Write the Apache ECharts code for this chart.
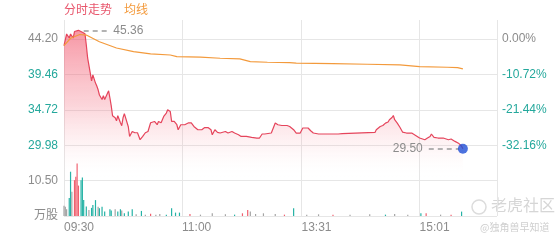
<!DOCTYPE html>
<html><head><meta charset="utf-8">
<script src="https://cdn.jsdelivr.net/npm/echarts@6/dist/echarts.min.js"></script>
<style>html,body{margin:0;padding:0;background:#fff}#c{width:560px;height:240px}</style>
</head><body><div id="c"></div>
<script>
// ---------- data ----------
const prevClose = 44.20;
const priceTickLabels = ['44.20', '39.46', '34.72', '29.98'];
const pctTickLabels = ['0.00', '-10.72', '-21.44', '-32.16'];
const volTickLabels = { '0.00': '万股', '10.50': '10.50' };
const timeTickIdx = [0, 90, 181, 271];
const timeGridIdx = [0, 90, 181, 271, 330];

// HK session minutes: 09:30-12:00, 13:01-16:00
const categories = [];
for (let m = 0; m <= 330; m++) {
  let h, mm;
  if (m <= 150) { const t = 9 * 60 + 30 + m; h = Math.floor(t / 60); mm = t % 60; }
  else { const t = 13 * 60 + (m - 150); h = Math.floor(t / 60); mm = t % 60; }
  categories.push(String(h).padStart(2, '0') + ':' + String(mm).padStart(2, '0'));
}

const priceIdx = [0,2,4,5,7,8,11,12,14,15,16,17,18,20,21,22,24,25,26,27,29,30,31,34,35,36,37,39,40,41,43,44,45,46,49,50,52,54,56,58,60,62,64,66,67,69,71,72,74,76,78,79,81,82,84,86,87,89,92,95,97,99,100,102,105,107,110,112,113,115,117,119,123,125,128,130,133,135,139,143,147,149,151,153,158,161,163,166,170,172,175,177,180,182,186,188,190,194,209,210,212,222,237,238,241,243,245,247,248,250,251,252,254,256,258,261,265,268,271,275,277,279,280,282,285,289,293,295,298,301,303,304];
const priceVal = [43.3,44.87,44.33,44.87,44.33,45.2,45.36,45.2,45.1,44.9,44.9,43.4,41.66,39.66,38.6,39.4,38.3,37.9,37.4,36.7,36.1,36.6,36.1,37.26,36.3,35.25,33.92,33.65,33.25,33.92,32.98,32.6,33.65,34.2,32.45,31.15,31.82,31.65,31.65,30.71,31.15,31.65,31.82,32.98,32.72,33.16,32.72,33.16,32.98,33.83,34.28,34.72,34.49,33.16,33.16,32.72,32.05,32.72,32.72,32.98,32.98,32.49,32.32,32.05,32.05,32.32,32.32,32.05,31.38,32.05,31.7,31.61,31.82,31.61,31.82,31.61,31.38,31.15,31.15,31.02,30.94,30.94,31.48,31.48,31.61,32.94,32.72,32.62,32.62,32.49,32.05,31.61,31.61,32.28,32.28,31.92,31.61,31.48,31.48,31.74,31.52,31.61,31.69,32.05,32.49,32.62,32.94,33.08,33.39,33.69,33.96,33.39,32.94,32.38,31.74,31.61,31.61,31.29,30.94,30.71,30.94,31.15,31.48,31.02,30.94,30.94,30.71,30.81,30.49,30.2,29.85,29.50];

const avgIdx = [0,5,12,17,27,40,53,66,81,86,104,119,134,142,155,172,177,205,231,256,271,292,300,304];
const avgVal = [43.3,44.3,44.8,44.73,43.84,43.0,42.5,42.2,42.06,41.84,41.76,41.62,41.53,41.17,41.09,41.04,40.96,40.90,40.82,40.73,40.50,40.42,40.37,40.19];

const highPrice = 45.36;
const lastPrice = 29.50;
const lastIdx = 304;

const volIdx = [0,1,2,4,5,6,8,9,10,11,13,14,15,17,19,21,22,24,26,27,29,31,35,36,39,41,43,44,46,49,52,55,59,62,66,70,73,78,82,85,88,96,104,113,123,130,136,140,142,146,152,161,168,175,185,194,205,218,233,245,252,262,272,276,287,295,303];
const volVal = [3.0,2.75,2.0,5.3,13.1,7.2,10.6,11.6,15.5,9.0,10.6,11.4,4.7,2.8,1.8,2.4,3.25,4.7,2.75,2.3,2.75,1.3,2.0,1.6,2.0,1.3,2.0,1.6,0.8,1.3,2.0,0.5,1.5,0.4,0.7,0.4,0.6,0.4,2.3,1.0,1.0,0.6,0.4,0.8,0.5,0.4,0.8,1.8,1.3,0.6,0.8,0.6,0.4,2.3,0.4,0.5,0.4,0.4,0.5,0.4,0.6,0.4,0.8,0.8,0.4,0.4,1.3];
const volDir = ['n','n','n','d','d','n','u','u','u','u','d','d','d','d','n','d','d','d','n','d','d','d','d','d','n','d','d','n','d','d','d','n','d','n','u','n','n','d','d','d','d','u','n','n','n','d','u','u','n','n','n','n','u','d','n','n','u','n','n','d','n','n','d','u','n','u','d'];

// ---------- styles ----------
const C_GRAY = '#8c8c8c', C_TEAL = '#24a89c', C_RED = '#e5455c', C_ORANGE = '#f39a3c';
const C_GRID = '#e6e6e6';
const volColor = { u: '#f0606f', d: '#26b3a6', n: '#a4a4a4' };
const FONT = 'Arial, "Liberation Sans", "Noto Sans CJK SC", sans-serif';

const priceMin = 20.50, priceInt = 4.74;
const gridTop = 20, gridBottomPx = 216, chartH = 240;
const pxPerInt = (gridBottomPx - 39) / 5;
const priceMax = prevClose + (39 - gridTop) / pxPerInt * priceInt;
const pctMin = -53.60, pctInt = 10.72;
const pctMax = (priceMax / prevClose - 1) * 100;

const priceData = priceIdx.map((x, i) => [x, priceVal[i]]);
const avgData = avgIdx.map((x, i) => [x, avgVal[i]]);
const volData = volIdx.map((x, i) => ({ value: [x, volVal[i]], itemStyle: { color: volColor[volDir[i]] } }));

const chart = echarts.init(document.getElementById('c'), null, { renderer: 'canvas' });
chart.setOption({
  animation: false,
  textStyle: { fontFamily: FONT },
  grid: [
    { left: 64, right: 63, top: gridTop, bottom: chartH - gridBottomPx },
    { left: 64, right: 63, top: 145, bottom: chartH - gridBottomPx }
  ],
  xAxis: [
    { type: 'category', gridIndex: 0, data: categories, boundaryGap: false,
      axisLine: { show: false }, axisTick: { show: false }, axisLabel: { show: false },
      splitLine: { show: true, interval: (i) => timeGridIdx.includes(i), lineStyle: { color: C_GRID, width: 1 } } },
    { type: 'category', gridIndex: 1, data: categories, boundaryGap: false,
      axisLine: { show: false }, axisTick: { show: false }, splitLine: { show: false },
      axisLabel: { show: true, interval: (i) => timeTickIdx.includes(i), align: 'left', margin: 6,
        color: C_GRAY, fontSize: 12, fontFamily: FONT } }
  ],
  yAxis: [
    { type: 'value', gridIndex: 0, min: priceMin, max: priceMax, interval: priceInt, position: 'left',
      axisLine: { show: false }, axisTick: { show: false },
      splitLine: { show: true, showMaxLine: false, lineStyle: { color: C_GRID, width: 1 } },
      axisLabel: { margin: 6, fontSize: 12, fontFamily: FONT, showMaxLabel: false,
        formatter: (v) => { const s = v.toFixed(2); return priceTickLabels.includes(s) ? s : ''; },
        color: (v) => Math.abs(v - prevClose) < 0.001 ? C_GRAY : C_TEAL } },
    { type: 'value', gridIndex: 1, min: 0, max: 21, interval: 10.5, position: 'left',
      axisLine: { show: false }, axisTick: { show: false }, splitLine: { show: false },
      axisLabel: { margin: 6, fontSize: 12, fontFamily: FONT, color: C_GRAY, showMaxLabel: false,
        formatter: (v) => volTickLabels[v.toFixed(2)] || '' } },
    { type: 'value', gridIndex: 0, min: pctMin, max: pctMax, interval: pctInt, position: 'right',
      axisLine: { show: false }, axisTick: { show: false }, splitLine: { show: false },
      axisLabel: { margin: 5, fontSize: 12, fontFamily: FONT, showMaxLabel: false,
        formatter: (v) => { const s = v.toFixed(2); return pctTickLabels.includes(s) ? s + '%' : ''; },
        color: (v) => Math.abs(v) < 0.001 ? C_GRAY : C_TEAL } }
  ],
  series: [
    { type: 'line', xAxisIndex: 0, yAxisIndex: 0, data: priceData, symbol: 'none',
      lineStyle: { color: C_RED, width: 1.2 },
      areaStyle: { origin: 'start', color: new echarts.graphic.LinearGradient(0, 0, 0, 1, [
        { offset: 0, color: 'rgba(240,70,95,0.80)' },
        { offset: 0.4, color: 'rgba(244,110,128,0.42)' },
        { offset: 0.62, color: 'rgba(248,150,162,0.15)' },
        { offset: 0.8, color: 'rgba(255,255,255,0)' }
      ]) },
      markLine: { silent: true, symbol: 'none', animation: false,
        lineStyle: { type: [5, 4], color: '#9a9a9a', width: 1.5 },
        label: { color: C_GRAY, fontSize: 12, fontFamily: FONT, distance: 6 },
        data: [
          [{ coord: [15, highPrice], label: { show: true, position: 'end', formatter: highPrice.toFixed(2) } }, { coord: [33, highPrice] }],
          [{ coord: [278, lastPrice], label: { show: true, position: 'start', formatter: lastPrice.toFixed(2) } }, { coord: [301, lastPrice] }]
        ] } },
    { type: 'line', xAxisIndex: 0, yAxisIndex: 0, data: avgData, symbol: 'none',
      lineStyle: { color: C_ORANGE, width: 1.2 } },
    { type: 'scatter', xAxisIndex: 0, yAxisIndex: 0, data: [[lastIdx, lastPrice]], symbolSize: 10,
      itemStyle: { color: '#1f4fd6' }, z: 5 },
    { type: 'bar', xAxisIndex: 1, yAxisIndex: 1, data: volData, barWidth: 1.2 }
  ],
  graphic: [
    { type: 'text', left: 64, top: 3, style: { text: '分时走势', fill: '#e8566c', font: '12px "Noto Sans CJK SC", sans-serif' } },
    { type: 'text', left: 124, top: 3, style: { text: '均线', fill: C_ORANGE, font: '12px "Noto Sans CJK SC", sans-serif' } },
    { type: 'circle', shape: { cx: 479, cy: 207, r: 7 }, style: { fill: 'none', stroke: '#dcdcdc', lineWidth: 1.5 } },
    { type: 'text', left: 491, top: 197, style: { text: '老虎社区', fill: '#d6d6d6', font: '16px "Noto Sans CJK SC", sans-serif' } },
    { type: 'text', left: 480, top: 222, style: { text: '@独角兽早知道', fill: '#cfcfcf', font: '10px "Noto Sans CJK SC", sans-serif' } }
  ]
});
</script>
</body></html>
